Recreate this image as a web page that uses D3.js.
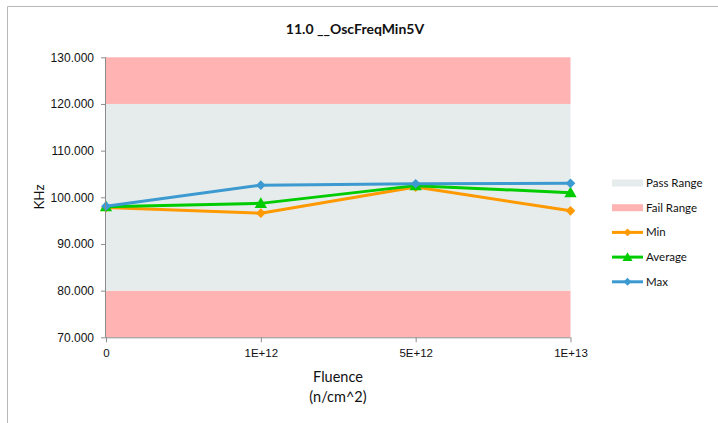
<!DOCTYPE html>
<html>
<head>
<meta charset="utf-8">
<script src="https://cdn.jsdelivr.net/npm/d3@7"></script>
<style>
  html, body { margin: 0; padding: 0; background: #fff; }
  svg { display: block; font-family: Lato, "Open Sans", "Liberation Sans", sans-serif; }
</style>
</head>
<body>
<svg id="chart" width="718" height="423"></svg>
<script>
// Fluence steps along the x axis
const categories = ["0", "1E+12", "5E+12", "1E+13"];
// Oscillator frequency (KHz) per fluence step
const minValues = [97.8, 96.6, 102.2, 97.1];
const avgValues = [98.0, 98.7, 102.5, 101.0];
const maxValues = [98.1, 102.6, 102.9, 103.0];
// Limits
const passRange = [80, 120];
const axisRange = [70, 130];
const yTicks = [70, 80, 90, 100, 110, 120, 130];

const series = [
  { name: "Min", values: minValues, color: "#FF9900", marker: "diamond" },
  { name: "Average", values: avgValues, color: "#00CC00", marker: "triangle" },
  { name: "Max", values: maxValues, color: "#3D9AD1", marker: "diamond" }
];

const svg = d3.select("#chart");
const W = 718, H = 423;

// Outer frame (top and left edges)
svg.append("line").attr("x1", 7.5).attr("x2", W).attr("y1", 6.5).attr("y2", 6.5)
  .attr("stroke", "#b8b8b8").attr("stroke-width", 1);
svg.append("line").attr("x1", 7.5).attr("x2", 7.5).attr("y1", 6.5).attr("y2", H)
  .attr("stroke", "#b8b8b8").attr("stroke-width", 1);

const x = d3.scalePoint().domain(categories).range([106, 570.5]);
const y = d3.scaleLinear().domain(axisRange).range([337.3, 57.3]);

const g = svg.append("g");

// Fail bands
g.append("rect").attr("x", x(categories[0])).attr("width", x(categories[3]) - x(categories[0]))
  .attr("y", y(axisRange[1])).attr("height", y(passRange[1]) - y(axisRange[1]))
  .attr("fill", "#FFB3B3");
g.append("rect").attr("x", x(categories[0])).attr("width", x(categories[3]) - x(categories[0]))
  .attr("y", y(passRange[0])).attr("height", y(axisRange[0]) - y(passRange[0]))
  .attr("fill", "#FFB3B3");
// Pass band
g.append("rect").attr("x", x(categories[0])).attr("width", x(categories[3]) - x(categories[0]))
  .attr("y", y(passRange[1])).attr("height", y(passRange[0]) - y(passRange[1]))
  .attr("fill", "#E6ECEC");

// Y axis
const yAxis = d3.axisLeft(y).tickValues(yTicks).tickFormat(d3.format(".3f"))
  .tickSize(5).tickPadding(7);
const yg = svg.append("g").attr("transform", `translate(${x(categories[0])},0)`).call(yAxis);
yg.select(".domain").attr("stroke", "#8c8c8c").attr("d", `M-0.5,${y(axisRange[1])}V${y(axisRange[0])}`);
yg.selectAll(".tick line").attr("stroke", "#8c8c8c");
yg.selectAll(".tick text").attr("fill", "#111").style("font-size", "12px");

// X axis
const xAxis = d3.axisBottom(x).tickSize(5).tickPadding(7);
const xg = svg.append("g").attr("transform", `translate(0,${y(axisRange[0])})`).call(xAxis);
xg.select(".domain").attr("stroke", "#8c8c8c").attr("d", `M${x(categories[0])},0.5H${x(categories[3])}`);
xg.selectAll(".tick line").attr("stroke", "#8c8c8c");
xg.selectAll(".tick text").attr("fill", "#111").style("font-size", "11.5px");

// Title
svg.append("text").attr("x", 355).attr("y", 34).attr("text-anchor", "middle")
  .style("font-size", "14px").style("font-weight", "bold").attr("fill", "#111")
  .text("11.0 __OscFreqMin5V");

// Axis titles
svg.append("text").attr("transform", "translate(44,197) rotate(-90)").attr("text-anchor", "middle")
  .style("font-size", "13.5px").attr("fill", "#111").text("KHz");
svg.append("text").attr("x", 338).attr("y", 382).attr("text-anchor", "middle")
  .style("font-size", "14.5px").attr("fill", "#111").text("Fluence");
svg.append("text").attr("x", 338).attr("y", 402).attr("text-anchor", "middle")
  .style("font-size", "14.5px").attr("fill", "#111").text("(n/cm^2)");

// Marker shapes
function markerPath(type, size) {
  if (type === "triangle") return d3.symbol().type(d3.symbolTriangle).size(size * 1.1)();
  return d3.symbol().type(d3.symbolDiamond2).size(size)();
}

const line = d3.line().x((d, i) => x(categories[i])).y(d => y(d));
series.forEach(s => {
  g.append("path").datum(s.values).attr("d", line).attr("fill", "none")
    .attr("stroke", s.color).attr("stroke-width", 3).attr("stroke-linejoin", "round");
  g.selectAll(null).data(s.values).enter().append("path")
    .attr("transform", (d, i) => `translate(${x(categories[i])},${y(d) + (s.marker === "triangle" ? 1 : 0)})`)
    .attr("d", markerPath(s.marker, 60)).attr("fill", s.color);
});

// Legend
const lg = svg.append("g").attr("transform", "translate(612,0)");
const legendRows = [
  { name: "Pass Range", type: "rect", color: "#E6ECEC" },
  { name: "Fail Range", type: "rect", color: "#FFB3B3" },
  ...series.map(s => ({ name: s.name, type: "line", color: s.color, marker: s.marker }))
];
legendRows.forEach((r, i) => {
  const cy = 183 + i * 24.7;
  if (r.type === "rect") {
    lg.append("rect").attr("x", 0).attr("y", cy - 3.5).attr("width", 31).attr("height", 7).attr("fill", r.color);
  } else {
    lg.append("line").attr("x1", 0).attr("x2", 31).attr("y1", cy).attr("y2", cy)
      .attr("stroke", r.color).attr("stroke-width", 3);
    lg.append("path").attr("transform", `translate(15.5,${cy + (r.marker === "triangle" ? 1 : 0)})`)
      .attr("d", markerPath(r.marker, 40)).attr("fill", r.color);
  }
  lg.append("text").attr("x", 34).attr("y", cy).attr("dy", "0.35em")
    .style("font-size", "11.5px").attr("fill", "#111").text(r.name);
});
</script>
</body>
</html>
